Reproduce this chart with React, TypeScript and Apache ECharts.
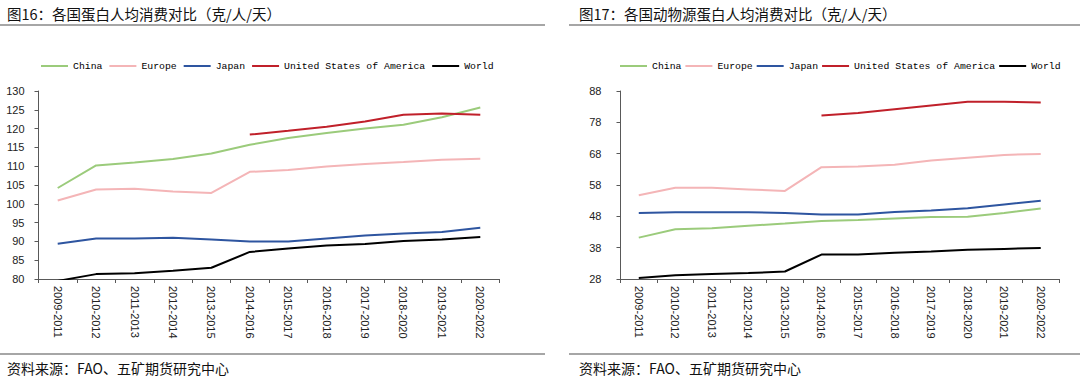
import { useEffect, useRef } from "react";
import * as echarts from "echarts";

const categories = [
  "2009-2011", "2010-2012", "2011-2013", "2012-2014", "2013-2015", "2014-2016",
  "2015-2017", "2016-2018", "2017-2019", "2018-2020", "2019-2021", "2020-2022",
];
const seriesNames = ["China", "Europe", "Japan", "United States of America", "World"];
const seriesColors = ["#9BCB7B", "#F4B5B7", "#2E55A0", "#C0202A", "#000000"];

// 图16: total protein (g/person/day)
const totalChina = [104.2, 110.2, 111.0, 111.9, 113.4, 115.7, 117.5, 118.8, 120.0, 121.0, 123.0, 125.6];
const totalEurope = [100.9, 103.8, 104.0, 103.3, 102.9, 108.5, 109.0, 109.9, 110.6, 111.1, 111.7, 112.0];
const totalJapan = [89.4, 90.8, 90.8, 91.0, 90.5, 90.0, 90.0, 90.8, 91.6, 92.1, 92.5, 93.6];
const totalUSA = [null, null, null, null, null, 118.4, 119.4, 120.5, 121.9, 123.7, 124.0, 123.7];
const totalWorld = [79.5, 81.3, 81.5, 82.2, 83.0, 87.2, 88.1, 88.9, 89.3, 90.1, 90.5, 91.2];

// 图17: animal-source protein (g/person/day)
const animalChina = [41.2, 43.9, 44.2, 45.0, 45.7, 46.5, 46.8, 47.3, 47.8, 47.9, 49.1, 50.5];
const animalEurope = [54.7, 57.1, 57.1, 56.6, 56.1, 63.7, 63.9, 64.5, 65.8, 66.7, 67.6, 67.9];
const animalJapan = [49.1, 49.3, 49.3, 49.3, 49.1, 48.6, 48.6, 49.4, 49.9, 50.6, 51.8, 53.0];
const animalUSA = [null, null, null, null, null, 80.2, 81.0, 82.2, 83.4, 84.6, 84.6, 84.3];
const animalWorld = [28.3, 29.2, 29.6, 29.9, 30.4, 35.8, 35.8, 36.4, 36.8, 37.3, 37.6, 37.9];

const leftTicks = [80, 85, 90, 95, 100, 105, 110, 115, 120, 125, 130];
const rightTicks = [28, 38, 48, 58, 68, 78, 88];

const titleLeft = "图16：各国蛋白人均消费对比（克/人/天）";
const titleRight = "图17：各国动物源蛋白人均消费对比（克/人/天）";
const sourceText = "资料来源：FAO、五矿期货研究中心";

const AXIS_COLOR = "#595959";
const CJK = '"Noto Sans CJK SC", sans-serif';

export default function App() {
  const ref = useRef<HTMLDivElement>(null);
  useEffect(() => {
    if (!ref.current) return;
    const chart = echarts.init(ref.current, undefined, { renderer: "svg" });

    const leftData = [totalChina, totalEurope, totalJapan, totalUSA, totalWorld];
    const rightData = [animalChina, animalEurope, animalJapan, animalUSA, animalWorld];

    const mkSeries = (data: (number | null)[][], idx: number) =>
      data.map((d, i) => ({
        type: "line",
        name: seriesNames[i],
        xAxisIndex: idx,
        yAxisIndex: idx,
        data: d,
        symbol: "none",
        showSymbol: false,
        connectNulls: false,
        clip: true,
        lineStyle: { color: seriesColors[i], width: 2 },
        itemStyle: { color: seriesColors[i] },
      }));

    const xAxisBase = (gridIndex: number) => ({
      type: "category",
      gridIndex,
      data: categories,
      boundaryGap: true,
      axisLine: { show: true, lineStyle: { color: AXIS_COLOR, width: 1 } },
      axisTick: { show: true, inside: false, length: 4, lineStyle: { color: AXIS_COLOR } },
      axisLabel: {
        rotate: -90,
        margin: 7,
        interval: 0,
        fontSize: 11,
        fontFamily: '"Liberation Sans", Arial, sans-serif',
        color: "#222222",
      },
      splitLine: { show: false },
    });

    const legendBase = (left: number, gap: number) => ({
      left,
      top: 56,
      orient: "horizontal",
      icon: "rect",
      itemWidth: 27,
      itemHeight: 2,
      itemGap: gap,
      data: seriesNames,
      selectedMode: false,
      textStyle: {
        fontFamily: '"Liberation Mono", "DejaVu Sans Mono", monospace',
        fontSize: 9.8,
        color: "#000000",
      },
    });

    chart.setOption({
      animation: false,
      backgroundColor: "#ffffff",
      grid: [
        { left: 38.5, top: 91, width: 461, height: 188, containLabel: false },
        { left: 620.5, top: 91, width: 438.5, height: 188, containLabel: false },
      ],
      legend: [legendBase(36, 7), legendBase(615, 4)],
      xAxis: [xAxisBase(0), xAxisBase(1)],
      yAxis: [
        {
          type: "value",
          gridIndex: 0,
          min: leftTicks[0],
          max: leftTicks[leftTicks.length - 1],
          interval: 5,
          axisLine: { show: true, lineStyle: { color: AXIS_COLOR, width: 1 } },
          axisTick: { show: true, inside: false, length: 4, lineStyle: { color: AXIS_COLOR } },
          axisLabel: {
            margin: 14,
            fontSize: 11,
            fontFamily: '"Liberation Sans", Arial, sans-serif',
            color: "#222222",
          },
          splitLine: { show: false },
        },
        {
          type: "value",
          gridIndex: 1,
          min: rightTicks[0],
          max: rightTicks[rightTicks.length - 1],
          axisLine: { show: true, lineStyle: { color: AXIS_COLOR, width: 1 } },
          axisTick: {
            show: true,
            inside: false,
            length: 4,
            customValues: rightTicks,
            lineStyle: { color: AXIS_COLOR },
          },
          axisLabel: {
            margin: 19,
            fontSize: 11,
            fontFamily: '"Liberation Sans", Arial, sans-serif',
            color: "#222222",
            customValues: rightTicks,
          },
          splitLine: { show: false },
        },
      ],
      graphic: [
        {
          type: "text",
          x: 7,
          y: 13.5,
          style: { text: titleLeft, font: `14.5px ${CJK}`, fill: "#111111", verticalAlign: "middle" },
        },
        {
          type: "text",
          x: 579,
          y: 13.5,
          style: { text: titleRight, font: `14.5px ${CJK}`, fill: "#111111", verticalAlign: "middle" },
        },
        { type: "rect", shape: { x: 0, y: 24, width: 545, height: 2 }, style: { fill: "#A6A6A6" } },
        { type: "rect", shape: { x: 569, y: 24, width: 511, height: 2 }, style: { fill: "#A6A6A6" } },
        { type: "rect", shape: { x: 0, y: 353, width: 545, height: 2 }, style: { fill: "#A6A6A6" } },
        { type: "rect", shape: { x: 569, y: 353, width: 511, height: 2 }, style: { fill: "#A6A6A6" } },
        {
          type: "text",
          x: 7,
          y: 368,
          style: { text: sourceText, font: `14px ${CJK}`, fill: "#111111", verticalAlign: "middle" },
        },
        {
          type: "text",
          x: 579,
          y: 368,
          style: { text: sourceText, font: `14px ${CJK}`, fill: "#111111", verticalAlign: "middle" },
        },
      ],
      series: [...mkSeries(leftData, 0), ...mkSeries(rightData, 1)],
    });

    return () => chart.dispose();
  }, []);

  return (
    <div
      ref={ref}
      style={{ position: "fixed", left: 0, top: 0, width: 1080, height: 382, background: "#fff" }}
    />
  );
}
